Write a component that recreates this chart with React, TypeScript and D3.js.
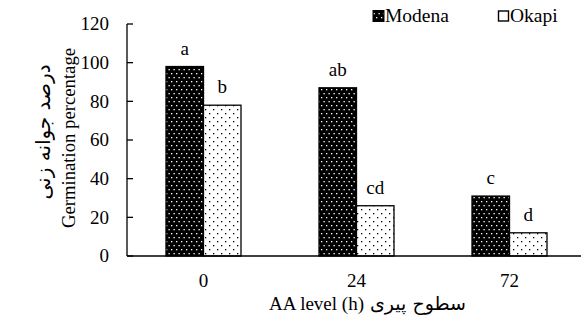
import React from "react";
import { scaleBand, scaleLinear } from "d3";

const categories = ["0", "24", "72"];
const seriesNames = ["Modena", "Okapi"];
const modena = [98, 87, 31];
const okapi = [78, 26, 12];
const modenaLetters = ["a", "ab", "c"];
const okapiLetters = ["b", "cd", "d"];
const yTicks = [0, 20, 40, 60, 80, 100, 120];

const W = 581;
const H = 322;
const margin = { left: 127, right: -5, top: 24, bottom: 66 };
const font = "Liberation Serif, DejaVu Serif, serif";
const faFont = "DejaVu Sans, sans-serif";

function App() {
  const x = scaleBand()
    .domain(categories)
    .range([margin.left, W - margin.right])
    .paddingInner(0)
    .paddingOuter(0);
  const y = scaleLinear()
    .domain([0, 120])
    .range([H - margin.bottom, margin.top]);
  const barW = 37.5;
  const series = [
    { name: seriesNames[0], values: modena, letters: modenaLetters, fill: "url(#pModena)", off: -barW },
    { name: seriesNames[1], values: okapi, letters: okapiLetters, fill: "url(#pOkapi)", off: 0 },
  ];
  const y0 = y(0);

  return (
    <svg
      width={W}
      height={H}
      style={{ position: "absolute", left: 0, top: 0, background: "#fff", fontFamily: font }}
    >
      <defs>
        <pattern id="pModena" width="5" height="8" patternUnits="userSpaceOnUse">
          <rect width="5" height="8" fill="#000" />
          <rect x="1" y="1" width="1.3" height="1.3" fill="#fff" />
          <rect x="3.5" y="5" width="1.3" height="1.3" fill="#fff" />
        </pattern>
        <pattern id="pOkapi" width="8" height="8" patternUnits="userSpaceOnUse">
          <rect width="8" height="8" fill="#fff" />
          <rect x="1" y="1" width="1.3" height="1.3" fill="#000" />
          <rect x="5" y="5" width="1.3" height="1.3" fill="#000" />
        </pattern>
      </defs>

      {series.map((s) =>
        s.values.map((v, i) => {
          const cx = (x(categories[i]) as number) + x.bandwidth() / 2;
          return (
            <g key={s.name + i}>
              <rect
                x={cx + s.off}
                y={y(v)}
                width={barW}
                height={y0 - y(v)}
                fill={s.fill}
                stroke="#000"
                strokeWidth={1.3}
              />
              <text x={cx + s.off + barW / 2} y={y(v) - 12} textAnchor="middle" fontSize={19}>
                {s.letters[i]}
              </text>
            </g>
          );
        })
      )}

      {/* y axis */}
      <line x1={margin.left} x2={margin.left} y1={y(120)} y2={y0} stroke="#000" strokeWidth={1.3} />
      {yTicks.map((t) => (
        <g key={t}>
          <line x1={margin.left} x2={margin.left + 6} y1={y(t)} y2={y(t)} stroke="#000" strokeWidth={1.3} />
          <text x={margin.left - 18} y={y(t)} dy="0.33em" textAnchor="end" fontSize={19}>
            {t}
          </text>
        </g>
      ))}

      {/* x axis */}
      <line x1={margin.left} x2={W} y1={y0} y2={y0} stroke="#000" strokeWidth={1.5} />
      {categories.map((c) => (
        <text key={c} x={(x(c) as number) + x.bandwidth() / 2} y={y0 + 31} textAnchor="middle" fontSize={19}>
          {c}
        </text>
      ))}

      {/* axis titles */}
      <text x={364} y={310} textAnchor="end" fontSize={19}>
        AA level (h)
      </text>
      <text x={370} y={310} textAnchor="start" fontSize={19} style={{ fontFamily: faFont }}>
        سطوح پیری
      </text>
      <text
        transform={`translate(50,${132}) rotate(-90)`}
        textAnchor="middle"
        fontSize={20}
        style={{ fontFamily: faFont }}
      >
        درصد جوانه زنی
      </text>
      <text transform={`translate(75,${138}) rotate(-90)`} textAnchor="middle" fontSize={18.7}>
        Germination percentage
      </text>

      {/* legend */}
      <g>
        <rect x={373} y={10.5} width={11} height={11} fill="url(#pModena)" stroke="#000" />
        <text x={385} y={21.5} fontSize={19.5}>
          Modena
        </text>
        <rect x={498.5} y={11} width={10} height={10} fill="#fff" stroke="#000" strokeWidth={1.4} />
        <text x={510} y={21.5} fontSize={19.5}>
          Okapi
        </text>
      </g>
    </svg>
  );
}

export default App;
